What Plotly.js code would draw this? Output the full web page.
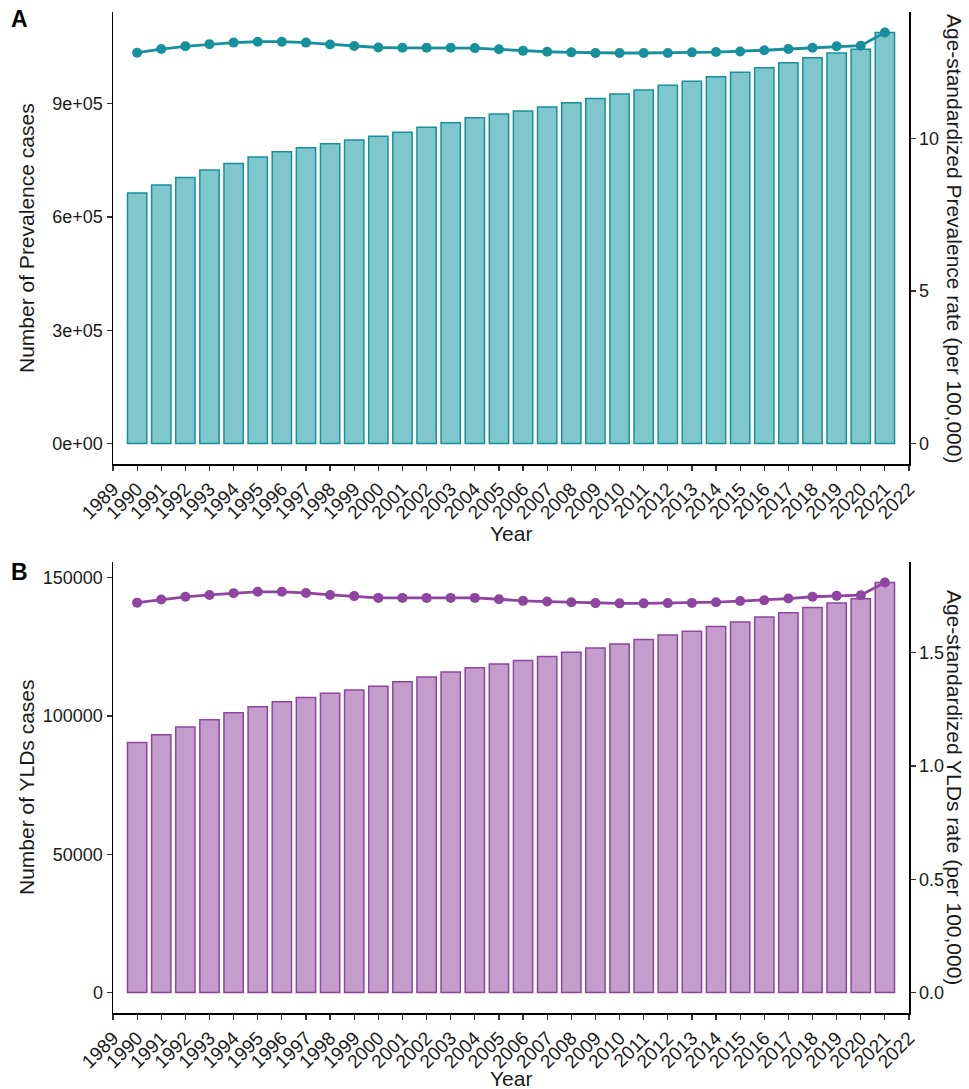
<!DOCTYPE html>
<html>
<head>
<meta charset="utf-8">
<script src="https://cdn.plot.ly/plotly-3.0.1.min.js"></script>
<style>html,body{margin:0;padding:0;background:#fff;}#chart{width:969px;height:1089px;}</style>
</head>
<body>
<div id="chart"></div>
<script>
// Data
const years = [1990,1991,1992,1993,1994,1995,1996,1997,1998,1999,2000,2001,2002,2003,2004,2005,2006,2007,2008,2009,2010,2011,2012,2013,2014,2015,2016,2017,2018,2019,2020,2021];
const prevalenceCases = [664000,685000,705000,725000,742000,759000,773000,784000,794000,804000,814000,825000,838000,850000,863000,873000,881000,892000,903000,914000,926000,937000,949000,960000,972000,984000,996000,1009000,1022000,1035000,1045000,1089000];
const prevalenceRate = [12.81,12.93,13.02,13.09,13.14,13.17,13.17,13.14,13.08,13.03,12.98,12.97,12.97,12.97,12.96,12.92,12.87,12.84,12.82,12.80,12.80,12.80,12.80,12.82,12.83,12.85,12.89,12.93,12.97,13.02,13.04,13.47];
const yldCases = [90400,93200,96000,98700,101200,103400,105200,106700,108200,109400,110800,112400,114100,115900,117500,118800,120100,121500,123100,124600,126100,127700,129300,130700,132400,134000,135800,137400,139300,140900,142400,148300];
const yldRate = [1.721,1.735,1.747,1.755,1.763,1.769,1.769,1.764,1.755,1.750,1.742,1.742,1.742,1.742,1.742,1.736,1.729,1.726,1.723,1.719,1.718,1.718,1.719,1.720,1.723,1.728,1.732,1.739,1.747,1.751,1.754,1.810];
const xTicks = [];
for (let y = 1989; y <= 2022; y++) xTicks.push(y);
const prevLeftTicks = [0, 300000, 600000, 900000];
const prevLeftLabels = ["0e+00", "3e+05", "6e+05", "9e+05"];
const prevRightTicks = [0, 5, 10];
const yldLeftTicks = [0, 50000, 100000, 150000];
const yldLeftLabels = ["0", "50000", "100000", "150000"];
const yldRightTicks = [0, 0.5, 1.0, 1.5];
const yldRightLabels = ["0.0", "0.5", "1.0", "1.5"];

// Styles
const tealLine = "#17909E";
const tealFill = "#80C6CD";
const purpLine = "#8E44A0";
const purpFill = "#C59DCC";
const FONT = "Liberation Sans, Arial, sans-serif";

// Secondary axis scaling (ggplot-like sec_axis)
const maxA = Math.max(...prevalenceCases), rmaxA = Math.max(...prevalenceRate);
const fA = maxA / rmaxA;
const padA = maxA * 0.05;
const leftRangeA = [-padA, maxA + padA];
const rightRangeA = [leftRangeA[0] / fA, leftRangeA[1] / fA];

const maxB = Math.max(...yldCases), rmaxB = Math.max(...yldRate);
const fB = maxB / rmaxB;
const padB = maxB * 0.05;
const leftRangeB = [-padB, maxB + padB];
const rightRangeB = [leftRangeB[0] / fB, leftRangeB[1] / fB];

const traces = [
  {type: "bar", x: years, y: prevalenceCases, xaxis: "x", yaxis: "y", width: 0.8,
   marker: {color: tealFill, line: {color: tealLine, width: 1.5}}, hoverinfo: "x+y"},
  {type: "scatter", mode: "lines+markers", x: years, y: prevalenceRate, xaxis: "x", yaxis: "y2",
   line: {color: tealLine, width: 2.8}, marker: {color: tealLine, size: 10}},
  {type: "bar", x: years, y: yldCases, xaxis: "x2", yaxis: "y3", width: 0.8,
   marker: {color: purpFill, line: {color: purpLine, width: 1.5}}, hoverinfo: "x+y"},
  {type: "scatter", mode: "lines+markers", x: years, y: yldRate, xaxis: "x2", yaxis: "y4",
   line: {color: purpLine, width: 2.8}, marker: {color: purpLine, size: 10}}
];

const tickFont = {family: FONT, size: 18, color: "#1a1a1a"};
const axisCommon = {showgrid: false, zeroline: false, showline: true, linecolor: "#000", linewidth: 1.5,
  ticks: "outside", ticklen: 5, tickwidth: 1.2, tickcolor: "#333", tickfont: tickFont};

const xCommon = Object.assign({}, axisCommon, {range: [1989, 2022], tickmode: "array", tickvals: xTicks,
  ticktext: xTicks.map(String), tickangle: -45, tickfont: {family: FONT, size: 19, color: "#1a1a1a"}});

const L = 113, R = 909, T = 12, B = 1013;
const W = R - L, H = B - T;
const px = v => (v - L) / W;
const py = v => (B - v) / H;
const titleFont = {family: FONT, size: 21, color: "#1a1a1a"};
const ann = (text, x, y, angle, font) => ({text: text, xref: "paper", yref: "paper", x: px(x), y: py(y),
  xanchor: "center", yanchor: "middle", textangle: angle, showarrow: false, font: font || titleFont});

const layout = {
  width: 969, height: 1089,
  margin: {l: L, r: 969 - R, t: T, b: 1089 - B, pad: 0},
  paper_bgcolor: "#fff", plot_bgcolor: "#fff",
  showlegend: false, bargap: 0,
  font: {family: FONT, size: 18, color: "#1a1a1a"},
  xaxis: Object.assign({}, xCommon, {anchor: "y", domain: [0, 1]}),
  xaxis2: Object.assign({}, xCommon, {anchor: "y3", domain: [0, 1]}),
  yaxis: Object.assign({}, axisCommon, {domain: [py(464), 1], range: leftRangeA, tickmode: "array",
    tickvals: prevLeftTicks, ticktext: prevLeftLabels, anchor: "x"}),
  yaxis2: Object.assign({}, axisCommon, {overlaying: "y", side: "right", anchor: "x", range: rightRangeA,
    tickmode: "array", tickvals: prevRightTicks, ticktext: prevRightTicks.map(String)}),
  yaxis3: Object.assign({}, axisCommon, {domain: [0, py(562)], range: leftRangeB, tickmode: "array",
    tickvals: yldLeftTicks, ticktext: yldLeftLabels, anchor: "x2"}),
  yaxis4: Object.assign({}, axisCommon, {overlaying: "y3", side: "right", anchor: "x2", range: rightRangeB,
    tickmode: "array", tickvals: yldRightTicks, ticktext: yldRightLabels}),
  annotations: [
    ann("<b>A</b>", 19, 19, 0, {family: FONT, size: 23, color: "#000"}),
    ann("<b>B</b>", 19, 572, 0, {family: FONT, size: 23, color: "#000"}),
    ann("Number of Prevalence cases", 26, 238, -90),
    ann("Number of YLDs cases", 26, 787, -90),
    ann("Age-standardized Prevalence rate (per 100,000)", 955, 238, 90),
    ann("Age-standardized YLDs rate (per 100,000)", 955, 787, 90),
    ann("Year", 511, 533, 0),
    ann("Year", 511, 1078, 0)
  ]
};

Plotly.newPlot("chart", traces, layout, {displayModeBar: false, staticPlot: true});
</script>
</body>
</html>
